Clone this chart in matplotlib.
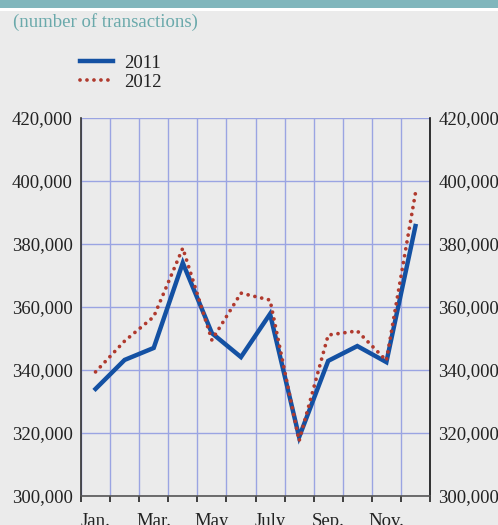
import matplotlib.pyplot as plt
from matplotlib.patches import Rectangle
from matplotlib.ticker import FuncFormatter, FixedLocator

months = ["Jan.", "Feb.", "Mar.", "Apr.", "May", "June",
          "July", "Aug.", "Sep.", "Oct.", "Nov.", "Dec."]
tx_2011 = [334000, 343200, 347000, 374000, 351700, 344100,
           357800, 318700, 342900, 347600, 342500, 385700]
tx_2012 = [339400, 349200, 356900, 378700, 349500, 364400,
           362200, 317500, 351100, 352400, 343000, 396200]
shown_months = ["Jan.", "Mar.", "May", "July", "Sep.", "Nov."]
y_ticks = [300000, 320000, 340000, 360000, 380000, 400000, 420000]

bg = "#ebebeb"
grid_col = "#9aa4e2"
blue = "#1451a3"
red = "#b03a2e"
serif = ["Liberation Serif", "DejaVu Serif"]

plt.rcParams["font.family"] = serif

fig = plt.figure(figsize=(4.98, 5.25), dpi=100, facecolor=bg)

# teal band across the top
fig.patches.append(Rectangle((0, 1 - 8 / 525), 1, 8 / 525, transform=fig.transFigure,
                             facecolor="#80b6bc", edgecolor="none"))
fig.patches.append(Rectangle((0, 1 - 11 / 525), 1, 3 / 525, transform=fig.transFigure,
                             facecolor="white", edgecolor="none"))
fig.text(13 / 498, 1 - 22 / 525, "(number of transactions)", color="#6aa9ab",
         fontsize=13.5, va="center", ha="left")

ax = fig.add_axes([81 / 498, 1 - 496 / 525, 349 / 498, 378 / 525])
ax.set_facecolor(bg)

x = [i + 0.5 for i in range(len(months))]
l1, = ax.plot(x, tx_2011, color=blue, lw=3.2, solid_joinstyle="miter", zorder=3)
l2, = ax.plot(x, tx_2012, color=red, lw=2.7, linestyle=(0, (0.01, 1.85)),
              dash_capstyle="round", zorder=4)

ax.set_xlim(0, 12)
ax.set_ylim(300000, 420000)

ax.xaxis.set_major_locator(FixedLocator(range(0, 13)))
ax.xaxis.set_minor_locator(FixedLocator([months.index(m) + 0.5 for m in shown_months]))
ax.xaxis.set_major_formatter(FuncFormatter(lambda v, p: ""))
ax.xaxis.set_minor_formatter(FuncFormatter(
    lambda v, p: months[int(v)] if months[int(v)] in shown_months else ""))
ax.tick_params(axis="x", which="major", direction="out", length=4, width=1.2, color="#222222")
ax.tick_params(axis="x", which="minor", length=0, labelsize=13.5, pad=12, labelcolor="#222222")

ax.set_yticks(y_ticks)
ax.yaxis.set_major_formatter(FuncFormatter(lambda v, p: f"{int(v):,}"))
ax.tick_params(axis="y", length=0, labelsize=13.5, pad=6, labelcolor="#222222",
               labelright=True, right=False)

ax.grid(True, which="major", color=grid_col, lw=1.0, zorder=0)
ax.set_axisbelow(True)

ax.spines["top"].set_visible(False)
ax.spines["left"].set_color("#333333")
ax.spines["right"].set_color("#111111")
ax.spines["bottom"].set_color("#555555")
for s in ax.spines.values():
    s.set_linewidth(1.2)

leg = fig.legend([l1, l2], ["2011", "2012"], loc="upper left",
                 bbox_to_anchor=(63 / 498, 1 - 38 / 525), frameon=False,
                 fontsize=13.5, handlelength=1.75, labelspacing=0.1, handletextpad=0.6)
for t in leg.get_texts():
    t.set_color("#222222")

fig.savefig("out.png", dpi=100, facecolor=bg)
